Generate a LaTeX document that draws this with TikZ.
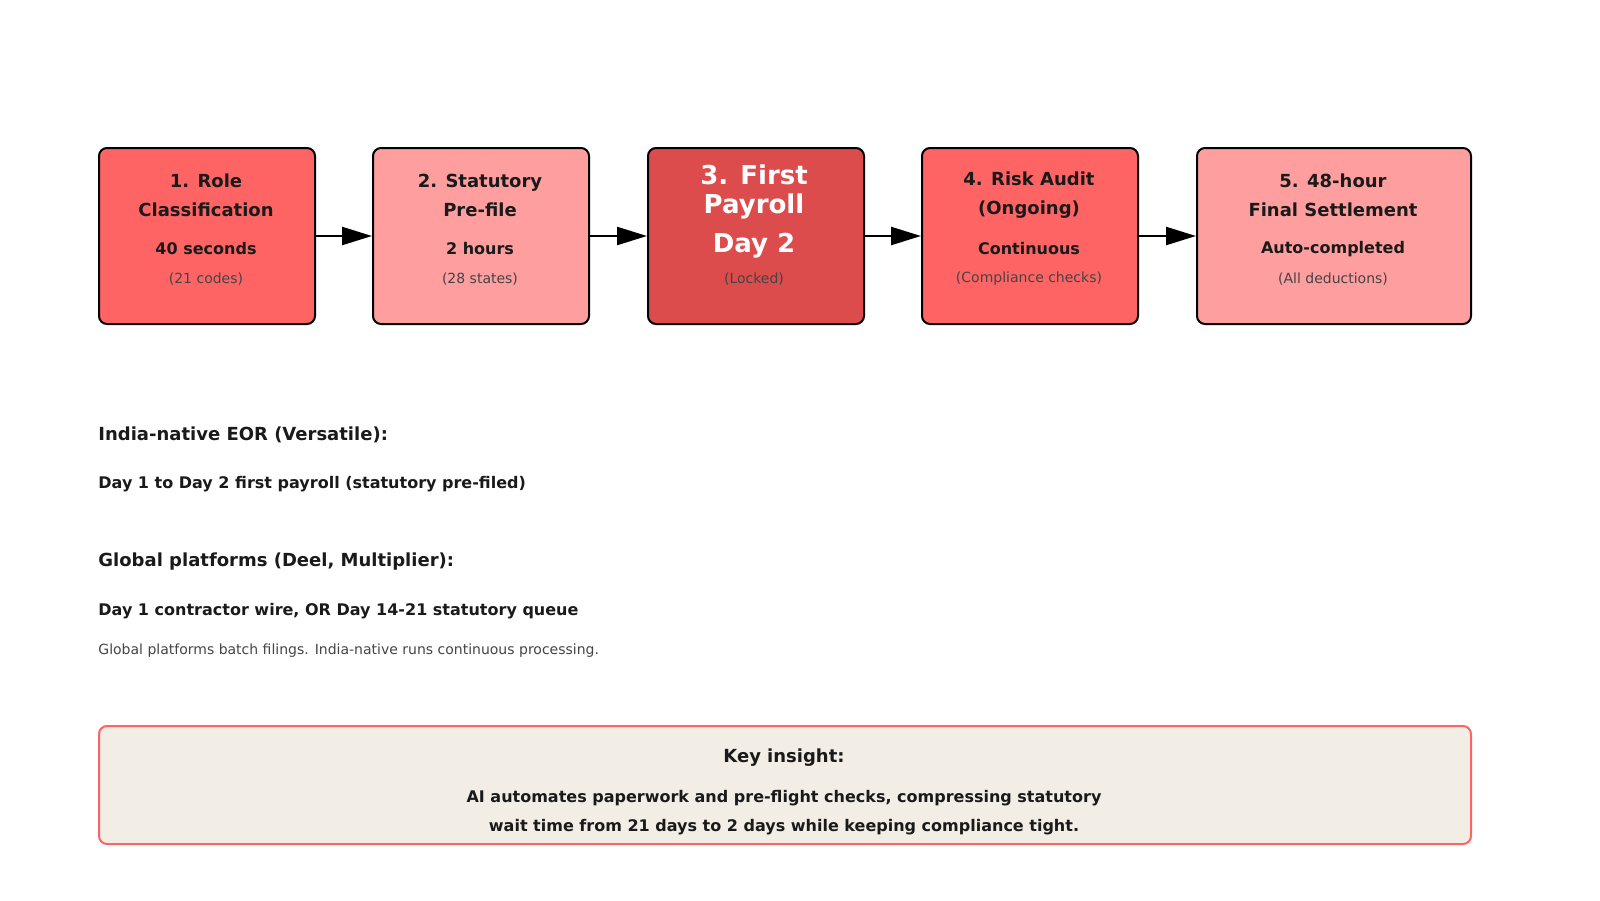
\documentclass[tikz,border=0pt]{standalone}
\usepackage{fontspec}
\setmainfont{DejaVu Sans}
\usetikzlibrary{arrows.meta}
\definecolor{redA}{HTML}{FF6464}
\definecolor{redB}{HTML}{FF9E9E}
\definecolor{redC}{HTML}{DC4C4C}
\definecolor{cream}{HTML}{F2EDE5}
\definecolor{ink}{HTML}{1A1A1A}
\definecolor{grey}{HTML}{444444}
\tikzset{
  stage/.style={draw=black,line width=1pt,rounded corners=4pt,anchor=north west,inner sep=0pt},
  flow/.style={-{Triangle[length=15pt,width=9pt]},line width=1.2pt},
  ttl/.style={font=\bfseries\fontsize{9}{14.5}\selectfont,text=ink,align=center},
  big/.style={font=\bfseries\fontsize{13}{14.5}\selectfont,text=white,align=center},
  val/.style={font=\bfseries\fontsize{8}{10}\selectfont,text=ink},
  note/.style={font=\fontsize{7}{9}\selectfont,text=grey},
  lt/.style={anchor=west,inner sep=0pt}
}
\begin{document}
\begin{tikzpicture}[x=0.5pt,y=-0.5pt]
  \useasboundingbox (0,0) rectangle (1600,900);
  % stages
  \node[stage,fill=redA,minimum width=108pt,minimum height=88pt] (s1) at (98,147) {};
  \node[stage,fill=redB,minimum width=108pt,minimum height=88pt] (s2) at (372,147) {};
  \node[stage,fill=redC,minimum width=108pt,minimum height=88pt] (s3) at (647,147) {};
  \node[stage,fill=redA,minimum width=108pt,minimum height=88pt] (s4) at (921,147) {};
  \node[stage,fill=redB,minimum width=137pt,minimum height=88pt] (s5) at (1196,147) {};
  \node[ttl] at (206,195) {1. Role\\Classification};
  \node[val] at (206,249) {40 seconds};
  \node[note] at (206,279) {(21 codes)};
  \node[ttl] at (480,195) {2. Statutory\\Pre-file};
  \node[val] at (480,249) {2 hours};
  \node[note] at (480,279) {(28 states)};
  \node[big] at (754,192) {3. First\\Payroll};
  \node[big] at (754,246) {Day 2};
  \node[note] at (754,279) {(Locked)};
  \node[ttl] at (1029,195) {4. Risk Audit\\(Ongoing)};
  \node[val] at (1029,249) {Continuous};
  \node[note] at (1029,279) {(Compliance checks)};
  \node[ttl] at (1333,195) {5. 48-hour\\Final Settlement};
  \node[val] at (1333,249) {Auto-completed};
  \node[note] at (1333,279) {(All deductions)};
  \draw[flow] (s1.east) -- (s2.west);
  \draw[flow] (s2.east) -- (s3.west);
  \draw[flow] (s3.east) -- (s4.west);
  \draw[flow] (s4.east) -- (s5.west);
  % comparison
  \node[lt,font=\bfseries\fontsize{9}{11}\selectfont,text=ink] (h1) at (98,435) {India-native EOR (Versatile):};
  \node[lt,val] (d1) at (98,484) {Day 1 to Day 2 first payroll (statutory pre-filed)};
  \node[lt,font=\bfseries\fontsize{9}{11}\selectfont,text=ink] (h2) at (98,562) {Global platforms (Deel, Multiplier):};
  \node[lt,val] (d2) at (98,611) {Day 1 contractor wire, OR Day 14-21 statutory queue};
  \node[lt,note] (n2) at (98,651) {Global platforms batch filings. India-native runs continuous processing.};
  % insight
  \node[stage,fill=cream,draw=redA,line width=1pt,minimum width=686pt,minimum height=59pt] (key) at (98,725) {};
  \node[font=\bfseries\fontsize{9}{11}\selectfont,text=ink] at (784,758) {Key insight:};
  \node[val,align=center,font=\bfseries\fontsize{8}{14.5}\selectfont] at (784,813) {AI automates paperwork and pre-flight checks, compressing statutory\\wait time from 21 days to 2 days while keeping compliance tight.};
\end{tikzpicture}
\end{document}
